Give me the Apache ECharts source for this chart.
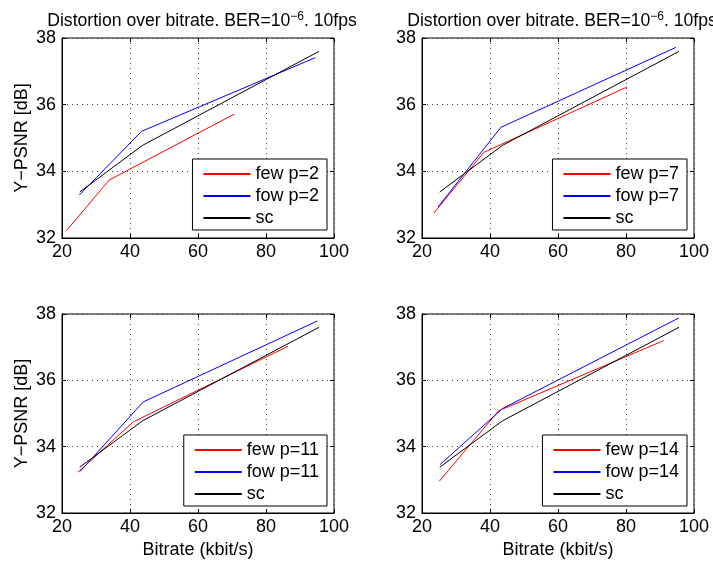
<!DOCTYPE html>
<html>
<head>
<meta charset="utf-8">
<script src="https://cdn.jsdelivr.net/npm/echarts@6/dist/echarts.min.js"></script>
<style>
  html, body { margin: 0; padding: 0; background: #fff; }
  #chart { width: 713px; height: 563px; }
</style>
</head>
<body>
<div id="chart"></div>
<script>
// Axis ticks shared by all four panels
const xTicks = [20, 40, 60, 80, 100];
const yTicks = [32, 34, 36, 38];

// Reference coding scheme (same curve in every panel)
const scRate = [25.2, 43.7, 95.6];
const scPsnr = [33.38, 34.78, 37.6];

// p = 2
const fewRateP2 = [21.3, 33.9, 70.7];
const fewPsnrP2 = [32.22, 33.74, 35.72];
const fowRateP2 = [25.1, 43.4, 94.5];
const fowPsnrP2 = [33.29, 35.2, 37.41];

// p = 7
const fewRateP7 = [23.5, 38.2, 80.3];
const fewPsnrP7 = [32.75, 34.57, 36.53];
const fowRateP7 = [24.7, 43.2, 94.7];
const fowPsnrP7 = [32.93, 35.32, 37.72];

// p = 11
const fewRateP11 = [24.7, 41.0, 86.5];
const fewPsnrP11 = [33.23, 34.75, 37.03];
const fowRateP11 = [25.3, 43.9, 95.1];
const fowPsnrP11 = [33.25, 35.35, 37.79];

// p = 14
const fewRateP14 = [25.1, 42.5, 91.1];
const fewPsnrP14 = [32.96, 35.08, 37.2];
const fowRateP14 = [25.3, 43.7, 95.5];
const fowPsnrP14 = [33.46, 35.15, 37.88];

const panelP = ['2', '7', '11', '14'];
const fewRate = [fewRateP2, fewRateP7, fewRateP11, fewRateP14];
const fewPsnr = [fewPsnrP2, fewPsnrP7, fewPsnrP11, fewPsnrP14];
const fowRate = [fowRateP2, fowRateP7, fowRateP11, fowRateP14];
const fowPsnr = [fowPsnrP2, fowPsnrP7, fowPsnrP11, fowPsnrP14];

const FONT = '"Liberation Sans", Arial, Helvetica, sans-serif';
const FS = 18;
const TITLE_FS = 17.6;

// Plot boxes (left, top, width, height)
const boxes = [
  { left: 62, top: 38, width: 272, height: 200 },
  { left: 422, top: 38, width: 272, height: 200 },
  { left: 62, top: 314, width: 272, height: 199 },
  { left: 422, top: 314, width: 272, height: 199 }
];

const pairs = (xs, ys) => xs.map((x, i) => [x, ys[i]]);

const grid = [], xAxis = [], yAxis = [], series = [], legend = [], title = [];

boxes.forEach((b, i) => {
  grid.push({
    left: b.left, top: b.top, width: b.width, height: b.height,
    show: true, borderColor: '#000', borderWidth: 1, backgroundColor: '#fff'
  });

  const bottomRow = i >= 2;
  const leftCol = i % 2 === 0;

  xAxis.push({
    type: 'value', gridIndex: i, min: xTicks[0], max: xTicks[xTicks.length - 1], interval: 20,
    position: 'bottom',
    axisLine: { show: true, onZero: false, lineStyle: { color: '#000', width: 1 } },
    axisTick: { show: true, inside: true, length: 4, lineStyle: { color: '#000' } },
    axisLabel: { color: '#000', fontSize: FS, fontFamily: FONT, margin: 5 },
    splitLine: { show: true, lineStyle: { color: '#444', type: [1, 4], width: 1 } },
    name: bottomRow ? 'Bitrate (kbit/s)' : '',
    nameLocation: 'middle', nameGap: 28,
    nameTextStyle: { color: '#000', fontSize: FS, fontFamily: FONT }
  });
  yAxis.push({
    type: 'value', gridIndex: i, min: yTicks[0], max: yTicks[yTicks.length - 1], interval: 2,
    position: 'left',
    axisLine: { show: true, onZero: false, lineStyle: { color: '#000', width: 1 } },
    axisTick: { show: true, inside: true, length: 4, lineStyle: { color: '#000' } },
    axisLabel: { color: '#000', fontSize: FS, fontFamily: FONT, margin: 6 },
    splitLine: { show: true, lineStyle: { color: '#444', type: [1, 4], width: 1 } },
    name: leftCol ? 'Y\u2212PSNR [dB]' : '',
    nameLocation: 'middle', nameGap: 31,
    nameTextStyle: { color: '#000', fontSize: FS, fontFamily: FONT }
  });

  series.push({
    name: 'few p=' + panelP[i], type: 'line', xAxisIndex: i, yAxisIndex: i,
    data: pairs(fewRate[i], fewPsnr[i]), symbol: 'none',
    lineStyle: { color: '#ff0000', width: 1 }, itemStyle: { color: '#ff0000' }
  });
  series.push({
    name: 'fow p=' + panelP[i], type: 'line', xAxisIndex: i, yAxisIndex: i,
    data: pairs(fowRate[i], fowPsnr[i]), symbol: 'none',
    lineStyle: { color: '#0000ff', width: 1 }, itemStyle: { color: '#0000ff' }
  });
  series.push({
    name: 'sc', type: 'line', xAxisIndex: i, yAxisIndex: i,
    data: pairs(scRate, scPsnr), symbol: 'none',
    lineStyle: { color: '#000000', width: 1 }, itemStyle: { color: '#000000' }
  });

  legend.push({
    orient: 'vertical',
    right: leftCol ? 386 : 26,
    top: bottomRow ? 435 : 159,
    data: ['few p=' + panelP[i], 'fow p=' + panelP[i], 'sc'],
    borderColor: '#000', borderWidth: 1, backgroundColor: '#fff',
    padding: [6, 8, 3, 10], itemGap: 4, itemWidth: 47, itemHeight: 14,
    selectedMode: false,
    // line-only keys: hide the marker that line series add to the key
    itemStyle: { color: 'rgba(0,0,0,0)', borderWidth: 0, opacity: 0 },
    textStyle: { color: '#000', fontSize: FS, fontFamily: FONT }
  });

  if (!bottomRow) {
    title.push({
      text: '{t|Distortion over bitrate. BER=10}{s|\u22126}{t|. 10fps}',
      left: b.left + b.width / 2 - 1, top: 6, textAlign: 'center',
      textStyle: {
        fontWeight: 'normal',
        rich: {
          t: { fontSize: TITLE_FS, fontFamily: FONT, color: '#000', fontWeight: 'normal' },
          s: { fontSize: 12, fontFamily: FONT, color: '#000', fontWeight: 'normal', padding: [0, 0, 9, 0] }
        }
      }
    });
  }
});

// Inward ticks on the top and right edges of each box
boxes.forEach((b, i) => {
  xAxis.push({
    type: 'value', gridIndex: i, min: 20, max: 100, interval: 20, position: 'top',
    axisLine: { show: false }, axisLabel: { show: false }, splitLine: { show: false },
    axisTick: { show: true, inside: true, length: 4, lineStyle: { color: '#000' } }
  });
  yAxis.push({
    type: 'value', gridIndex: i, min: 32, max: 38, interval: 2, position: 'right',
    axisLine: { show: false }, axisLabel: { show: false }, splitLine: { show: false },
    axisTick: { show: true, inside: true, length: 4, lineStyle: { color: '#000' } }
  });
});

const chart = echarts.init(document.getElementById('chart'), null, { renderer: 'canvas' });
chart.setOption({
  backgroundColor: '#fff',
  animation: false,
  title, grid, xAxis, yAxis, legend, series
});
</script>
</body>
</html>
